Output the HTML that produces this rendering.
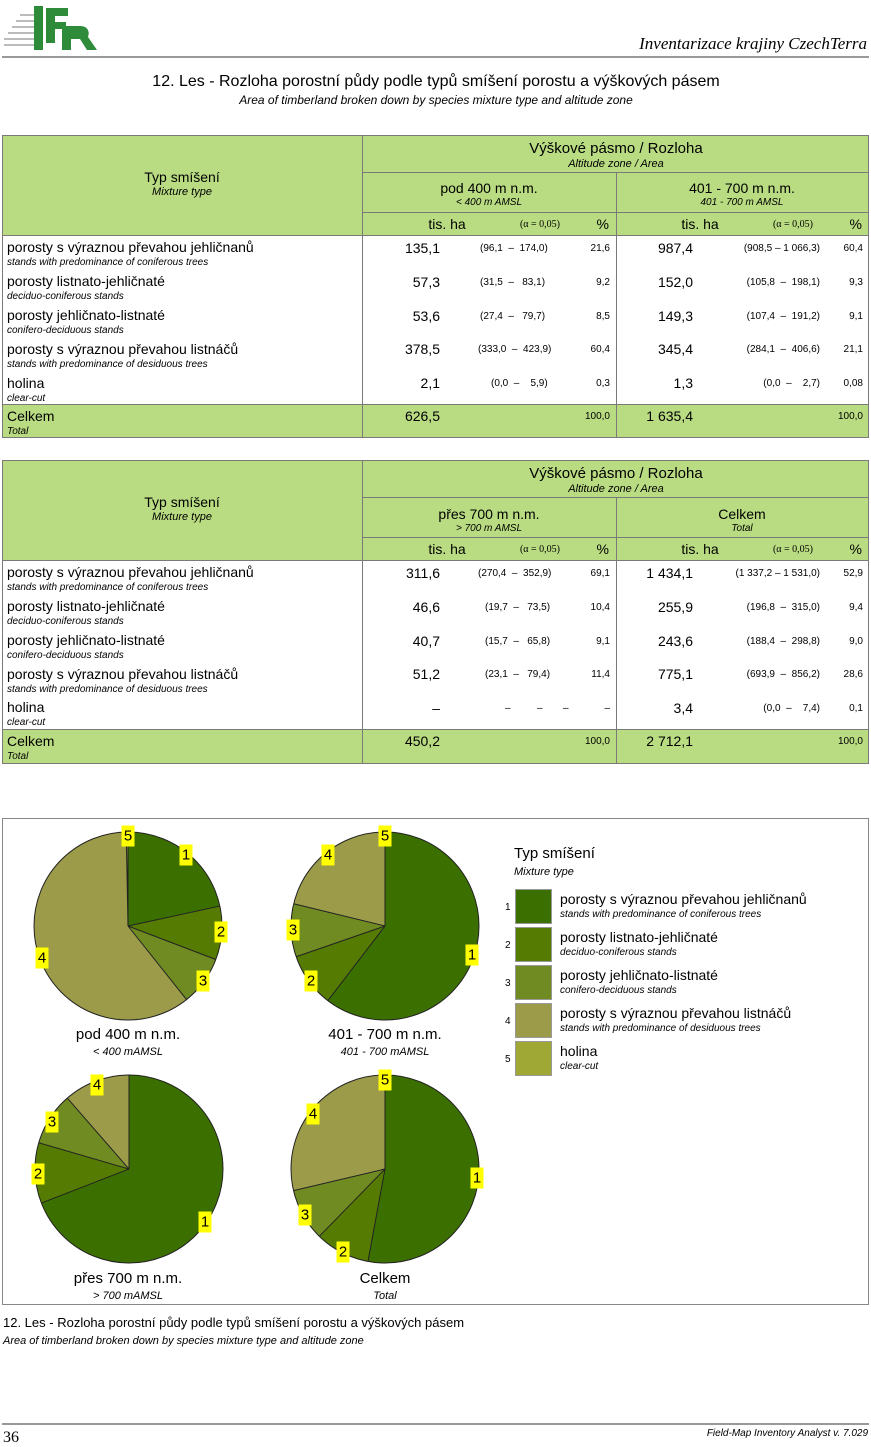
<!DOCTYPE html>
<html><head><meta charset="utf-8"><style>
*{margin:0;padding:0;box-sizing:border-box}
body{width:871px;height:1446px;background:#fff;font-family:"Liberation Sans",Arial,sans-serif;color:#000;position:relative;overflow:hidden}
.a{position:absolute;white-space:nowrap}
.c{transform:translateX(-50%)}
.r{transform:translateX(-100%)}
.i{font-style:italic}
.g{background:#b9dc82}
.hl{position:absolute;height:1px;background:#7a7a7a}
.vl{position:absolute;width:1px;background:#7a7a7a}
.m{font-size:14px}
.s{font-size:10px;font-style:italic}
.ci{font-size:10px}
.al{font-family:"Liberation Serif",serif;font-size:10px}
.lb{position:absolute;background:#ffff00;font-size:15px;width:13px;height:21px;text-align:center;line-height:21px;transform:translate(-50%,-50%)}
</style></head><body>

<!-- logo -->
<svg class="a" style="left:4px;top:2px" width="95" height="52">
<g fill="#bbb"><rect x="0" y="36" width="30" height="2"/><rect x="4" y="30" width="26" height="2"/><rect x="8" y="24" width="22" height="2"/><rect x="12" y="18" width="18" height="2"/><rect x="16" y="12" width="14" height="2"/><rect x="0" y="42" width="30" height="2"/></g>
<rect x="30" y="4" width="9" height="44" fill="#2e8b3a"/>
<path d="M42 6h22v8h-13v6h11v7h-11v14h-9z" fill="#2e8b3a"/>
<path d="M58 24h18c8 0 10 6 8 11l9 13h-10l-7-11h-9v11h-9z" fill="#2e8b3a"/>
</svg>
<div class="a i" style="right:4px;top:34px;font-family:'Liberation Serif',serif;font-size:17px">Inventarizace krajiny CzechTerra</div>
<div class="hl" style="left:2px;width:867px;top:56px;height:2px;background:#999"></div>

<div class="a c" style="left:436px;top:73px;font-size:16px">12. Les - Rozloha porostní půdy podle typů smíšení porostu a výškových pásem</div>
<div class="a c i" style="left:436px;top:93px;font-size:12px">Area of timberland broken down by species mixture type and altitude zone</div>

<!-- TABLE 1 -->
<div class="a g" style="left:2px;top:135px;width:867px;height:100px"></div>
<div class="a g" style="left:2px;top:404px;width:867px;height:34px"></div>
<div class="a" style="left:2px;top:135px;width:867px;height:303px;border:1px solid #7a7a7a"></div>
<div class="vl" style="left:362px;top:135px;height:303px"></div>
<div class="vl" style="left:616px;top:172px;height:266px"></div>
<div class="hl" style="left:362px;top:172px;width:507px"></div>
<div class="hl" style="left:362px;top:212px;width:507px"></div>
<div class="hl" style="left:2px;top:235px;width:867px"></div>
<div class="hl" style="left:2px;top:404px;width:867px"></div>
<div class="a c" style="left:616px;top:140px;font-size:15px">Výškové pásmo / Rozloha</div>
<div class="a c i" style="left:616px;top:158px;font-size:11px">Altitude zone / Area</div>
<div class="a c m" style="left:182px;top:169px">Typ smíšení</div>
<div class="a c i" style="left:182px;top:186px;font-size:11px">Mixture type</div>
<div class="a c m" style="left:489px;top:180px">pod 400 m n.m.</div>
<div class="a c i" style="left:489px;top:197px;font-size:10px">&lt; 400 m AMSL</div>
<div class="a c m" style="left:742px;top:180px">401 - 700 m n.m.</div>
<div class="a c i" style="left:742px;top:197px;font-size:10px">401 - 700 m AMSL</div>
<div class="a c m" style="left:447px;top:216px">tis. ha</div>
<div class="a c al" style="left:540px;top:219px">(α = 0,05)</div>
<div class="a r m" style="left:609px;top:216px">%</div>
<div class="a c m" style="left:700px;top:216px">tis. ha</div>
<div class="a c al" style="left:793px;top:219px">(α = 0,05)</div>
<div class="a r m" style="left:862px;top:216px">%</div>

<!-- rows t1 -->
<div class="a m" style="left:7px;top:239px">porosty s výraznou převahou jehličnanů</div><div class="a s" style="left:7px;top:257px">stands with predominance of coniferous trees</div>
<div class="a m" style="left:7px;top:273px">porosty listnato-jehličnaté</div><div class="a s" style="left:7px;top:291px">deciduo-coniferous stands</div>
<div class="a m" style="left:7px;top:307px">porosty jehličnato-listnaté</div><div class="a s" style="left:7px;top:325px">conifero-deciduous stands</div>
<div class="a m" style="left:7px;top:341px">porosty s výraznou převahou listnáčů</div><div class="a s" style="left:7px;top:359px">stands with predominance of desiduous trees</div>
<div class="a m" style="left:7px;top:375px">holina</div><div class="a s" style="left:7px;top:393px">clear-cut</div>
<div class="a m" style="left:7px;top:408px">Celkem</div><div class="a s" style="left:7px;top:426px">Total</div>

<div class="a r m" style="left:440px;top:240px">135,1</div><div class="a ci" style="left:480px;top:243px">(96,1 &nbsp;–&nbsp; 174,0)</div><div class="a r ci" style="left:610px;top:243px">21,6</div>
<div class="a r m" style="left:440px;top:274px">57,3</div><div class="a ci" style="left:480px;top:277px">(31,5 &nbsp;–&nbsp; &nbsp;83,1)</div><div class="a r ci" style="left:610px;top:277px">9,2</div>
<div class="a r m" style="left:440px;top:308px">53,6</div><div class="a ci" style="left:480px;top:311px">(27,4 &nbsp;–&nbsp; &nbsp;79,7)</div><div class="a r ci" style="left:610px;top:311px">8,5</div>
<div class="a r m" style="left:440px;top:341px">378,5</div><div class="a ci" style="left:478px;top:344px">(333,0 &nbsp;–&nbsp; 423,9)</div><div class="a r ci" style="left:610px;top:344px">60,4</div>
<div class="a r m" style="left:440px;top:375px">2,1</div><div class="a ci" style="left:491px;top:378px">(0,0 &nbsp;–&nbsp; &nbsp; 5,9)</div><div class="a r ci" style="left:610px;top:378px">0,3</div>
<div class="a r m" style="left:440px;top:408px">626,5</div><div class="a r ci" style="left:610px;top:411px">100,0</div>

<div class="a r m" style="left:693px;top:240px">987,4</div><div class="a r ci" style="left:820px;top:243px">(908,5 – 1 066,3)</div><div class="a r ci" style="left:863px;top:243px">60,4</div>
<div class="a r m" style="left:693px;top:274px">152,0</div><div class="a r ci" style="left:820px;top:277px">(105,8 &nbsp;–&nbsp; 198,1)</div><div class="a r ci" style="left:863px;top:277px">9,3</div>
<div class="a r m" style="left:693px;top:308px">149,3</div><div class="a r ci" style="left:820px;top:311px">(107,4 &nbsp;–&nbsp; 191,2)</div><div class="a r ci" style="left:863px;top:311px">9,1</div>
<div class="a r m" style="left:693px;top:341px">345,4</div><div class="a r ci" style="left:820px;top:344px">(284,1 &nbsp;–&nbsp; 406,6)</div><div class="a r ci" style="left:863px;top:344px">21,1</div>
<div class="a r m" style="left:693px;top:375px">1,3</div><div class="a r ci" style="left:820px;top:378px">(0,0 &nbsp;–&nbsp; &nbsp; 2,7)</div><div class="a r ci" style="left:863px;top:378px">0,08</div>
<div class="a r m" style="left:693px;top:408px">1 635,4</div><div class="a r ci" style="left:863px;top:411px">100,0</div>

<!-- TABLE 2 -->
<div class="a g" style="left:2px;top:460px;width:867px;height:100px"></div>
<div class="a g" style="left:2px;top:729px;width:867px;height:35px"></div>
<div class="a" style="left:2px;top:460px;width:867px;height:304px;border:1px solid #7a7a7a"></div>
<div class="vl" style="left:362px;top:460px;height:304px"></div>
<div class="vl" style="left:616px;top:497px;height:267px"></div>
<div class="hl" style="left:362px;top:497px;width:507px"></div>
<div class="hl" style="left:362px;top:537px;width:507px"></div>
<div class="hl" style="left:2px;top:560px;width:867px"></div>
<div class="hl" style="left:2px;top:729px;width:867px"></div>
<div class="a c" style="left:616px;top:465px;font-size:15px">Výškové pásmo / Rozloha</div>
<div class="a c i" style="left:616px;top:483px;font-size:11px">Altitude zone / Area</div>
<div class="a c m" style="left:182px;top:494px">Typ smíšení</div>
<div class="a c i" style="left:182px;top:511px;font-size:11px">Mixture type</div>
<div class="a c m" style="left:489px;top:506px">přes 700 m n.m.</div>
<div class="a c i" style="left:489px;top:523px;font-size:10px">&gt; 700 m AMSL</div>
<div class="a c m" style="left:742px;top:506px">Celkem</div>
<div class="a c i" style="left:742px;top:523px;font-size:10px">Total</div>
<div class="a c m" style="left:447px;top:541px">tis. ha</div>
<div class="a c al" style="left:540px;top:544px">(α = 0,05)</div>
<div class="a r m" style="left:609px;top:541px">%</div>
<div class="a c m" style="left:700px;top:541px">tis. ha</div>
<div class="a c al" style="left:793px;top:544px">(α = 0,05)</div>
<div class="a r m" style="left:862px;top:541px">%</div>

<div class="a m" style="left:7px;top:564px">porosty s výraznou převahou jehličnanů</div><div class="a s" style="left:7px;top:582px">stands with predominance of coniferous trees</div>
<div class="a m" style="left:7px;top:598px">porosty listnato-jehličnaté</div><div class="a s" style="left:7px;top:616px">deciduo-coniferous stands</div>
<div class="a m" style="left:7px;top:632px">porosty jehličnato-listnaté</div><div class="a s" style="left:7px;top:650px">conifero-deciduous stands</div>
<div class="a m" style="left:7px;top:666px">porosty s výraznou převahou listnáčů</div><div class="a s" style="left:7px;top:684px">stands with predominance of desiduous trees</div>
<div class="a m" style="left:7px;top:699px">holina</div><div class="a s" style="left:7px;top:717px">clear-cut</div>
<div class="a m" style="left:7px;top:733px">Celkem</div><div class="a s" style="left:7px;top:751px">Total</div>

<div class="a r m" style="left:440px;top:565px">311,6</div><div class="a ci" style="left:478px;top:568px">(270,4 &nbsp;–&nbsp; 352,9)</div><div class="a r ci" style="left:610px;top:568px">69,1</div>
<div class="a r m" style="left:440px;top:599px">46,6</div><div class="a ci" style="left:485px;top:602px">(19,7 &nbsp;–&nbsp; &nbsp;73,5)</div><div class="a r ci" style="left:610px;top:602px">10,4</div>
<div class="a r m" style="left:440px;top:633px">40,7</div><div class="a ci" style="left:485px;top:636px">(15,7 &nbsp;–&nbsp; &nbsp;65,8)</div><div class="a r ci" style="left:610px;top:636px">9,1</div>
<div class="a r m" style="left:440px;top:666px">51,2</div><div class="a ci" style="left:485px;top:669px">(23,1 &nbsp;–&nbsp; &nbsp;79,4)</div><div class="a r ci" style="left:610px;top:669px">11,4</div>
<div class="a r m" style="left:440px;top:700px">–</div><div class="a ci" style="left:505px;top:703px">–</div><div class="a ci" style="left:537px;top:703px">–</div><div class="a ci" style="left:563px;top:703px">–</div><div class="a r ci" style="left:610px;top:703px">–</div>
<div class="a r m" style="left:440px;top:733px">450,2</div><div class="a r ci" style="left:610px;top:736px">100,0</div>

<div class="a r m" style="left:693px;top:565px">1 434,1</div><div class="a r ci" style="left:820px;top:568px">(1 337,2 – 1 531,0)</div><div class="a r ci" style="left:863px;top:568px">52,9</div>
<div class="a r m" style="left:693px;top:599px">255,9</div><div class="a r ci" style="left:820px;top:602px">(196,8 &nbsp;–&nbsp; 315,0)</div><div class="a r ci" style="left:863px;top:602px">9,4</div>
<div class="a r m" style="left:693px;top:633px">243,6</div><div class="a r ci" style="left:820px;top:636px">(188,4 &nbsp;–&nbsp; 298,8)</div><div class="a r ci" style="left:863px;top:636px">9,0</div>
<div class="a r m" style="left:693px;top:666px">775,1</div><div class="a r ci" style="left:820px;top:669px">(693,9 &nbsp;–&nbsp; 856,2)</div><div class="a r ci" style="left:863px;top:669px">28,6</div>
<div class="a r m" style="left:693px;top:700px">3,4</div><div class="a r ci" style="left:820px;top:703px">(0,0 &nbsp;–&nbsp; &nbsp; 7,4)</div><div class="a r ci" style="left:863px;top:703px">0,1</div>
<div class="a r m" style="left:693px;top:733px">2 712,1</div><div class="a r ci" style="left:863px;top:736px">100,0</div>

<!-- CHART BOX -->
<div class="a" style="left:2px;top:818px;width:867px;height:487px;border:1px solid #888"></div>
<svg class="a" style="left:0;top:0" width="871" height="1446">
<defs>
<g id="dummy"></g>
</defs>
<!-- pie1 -->
<g transform="translate(128,926) rotate(-90)" fill="none" stroke-width="94">
<circle r="47" pathLength="100" stroke="#3b7001" stroke-dasharray="21.6 100"/>
<circle r="47" pathLength="100" stroke="#567b02" stroke-dasharray="9.2 100" stroke-dashoffset="-21.6"/>
<circle r="47" pathLength="100" stroke="#6f8b22" stroke-dasharray="8.5 100" stroke-dashoffset="-30.8"/>
<circle r="47" pathLength="100" stroke="#9c9b4a" stroke-dasharray="60.4 100" stroke-dashoffset="-39.3"/>
<circle r="47" pathLength="100" stroke="#9fa735" stroke-dasharray="0.3 100" stroke-dashoffset="-99.7"/>
</g>
<g transform="translate(128,926)" stroke="#222" stroke-width="1">
<circle r="94" fill="none"/>
<line x2="0" y2="-94"/><line x2="0" y2="-94" transform="rotate(77.76)"/><line x2="0" y2="-94" transform="rotate(110.88)"/><line x2="0" y2="-94" transform="rotate(141.48)"/><line x2="0" y2="-94" transform="rotate(358.92)"/>
</g>
<!-- pie2 -->
<g transform="translate(385,926) rotate(-90)" fill="none" stroke-width="94">
<circle r="47" pathLength="100" stroke="#3b7001" stroke-dasharray="60.4 100"/>
<circle r="47" pathLength="100" stroke="#567b02" stroke-dasharray="9.3 100" stroke-dashoffset="-60.4"/>
<circle r="47" pathLength="100" stroke="#6f8b22" stroke-dasharray="9.1 100" stroke-dashoffset="-69.7"/>
<circle r="47" pathLength="100" stroke="#9c9b4a" stroke-dasharray="21.12 100" stroke-dashoffset="-78.8"/>
<circle r="47" pathLength="100" stroke="#9fa735" stroke-dasharray="0.08 100" stroke-dashoffset="-99.92"/>
</g>
<g transform="translate(385,926)" stroke="#222" stroke-width="1">
<circle r="94" fill="none"/>
<line x2="0" y2="-94"/><line x2="0" y2="-94" transform="rotate(217.44)"/><line x2="0" y2="-94" transform="rotate(250.92)"/><line x2="0" y2="-94" transform="rotate(283.68)"/>
</g>
<!-- pie3 -->
<g transform="translate(129,1169) rotate(-90)" fill="none" stroke-width="94">
<circle r="47" pathLength="100" stroke="#3b7001" stroke-dasharray="69.1 100"/>
<circle r="47" pathLength="100" stroke="#567b02" stroke-dasharray="10.4 100" stroke-dashoffset="-69.1"/>
<circle r="47" pathLength="100" stroke="#6f8b22" stroke-dasharray="9.1 100" stroke-dashoffset="-79.5"/>
<circle r="47" pathLength="100" stroke="#9c9b4a" stroke-dasharray="11.4 100" stroke-dashoffset="-88.6"/>
</g>
<g transform="translate(129,1169)" stroke="#222" stroke-width="1">
<circle r="94" fill="none"/>
<line x2="0" y2="-94"/><line x2="0" y2="-94" transform="rotate(248.76)"/><line x2="0" y2="-94" transform="rotate(286.2)"/><line x2="0" y2="-94" transform="rotate(318.96)"/>
</g>
<!-- pie4 -->
<g transform="translate(385,1169) rotate(-90)" fill="none" stroke-width="94">
<circle r="47" pathLength="100" stroke="#3b7001" stroke-dasharray="52.9 100"/>
<circle r="47" pathLength="100" stroke="#567b02" stroke-dasharray="9.4 100" stroke-dashoffset="-52.9"/>
<circle r="47" pathLength="100" stroke="#6f8b22" stroke-dasharray="9.0 100" stroke-dashoffset="-62.3"/>
<circle r="47" pathLength="100" stroke="#9c9b4a" stroke-dasharray="28.6 100" stroke-dashoffset="-71.3"/>
<circle r="47" pathLength="100" stroke="#9fa735" stroke-dasharray="0.1 100" stroke-dashoffset="-99.9"/>
</g>
<g transform="translate(385,1169)" stroke="#222" stroke-width="1">
<circle r="94" fill="none"/>
<line x2="0" y2="-94"/><line x2="0" y2="-94" transform="rotate(190.44)"/><line x2="0" y2="-94" transform="rotate(224.28)"/><line x2="0" y2="-94" transform="rotate(256.68)"/>
</g>
<!-- legend swatches -->
<g stroke="#999" stroke-width="1">
<rect x="515.5" y="889.5" width="36" height="34" fill="#3b7001"/>
<rect x="515.5" y="927.5" width="36" height="34" fill="#567b02"/>
<rect x="515.5" y="965.5" width="36" height="34" fill="#6f8b22"/>
<rect x="515.5" y="1003.5" width="36" height="34" fill="#9c9b4a"/>
<rect x="515.5" y="1041.5" width="36" height="34" fill="#9fa735"/>
</g>
</svg>

<!-- pie labels -->
<div class="lb" style="left:128px;top:836px">5</div><div class="lb" style="left:186px;top:855px">1</div><div class="lb" style="left:221px;top:932px">2</div><div class="lb" style="left:203px;top:981px">3</div><div class="lb" style="left:42px;top:958px">4</div>
<div class="lb" style="left:385px;top:836px">5</div><div class="lb" style="left:328px;top:855px">4</div><div class="lb" style="left:293px;top:930px">3</div><div class="lb" style="left:311px;top:981px">2</div><div class="lb" style="left:472px;top:955px">1</div>
<div class="lb" style="left:97px;top:1085px">4</div><div class="lb" style="left:52px;top:1122px">3</div><div class="lb" style="left:38px;top:1174px">2</div><div class="lb" style="left:205px;top:1222px">1</div>
<div class="lb" style="left:385px;top:1080px">5</div><div class="lb" style="left:313px;top:1114px">4</div><div class="lb" style="left:305px;top:1215px">3</div><div class="lb" style="left:343px;top:1252px">2</div><div class="lb" style="left:477px;top:1178px">1</div>

<!-- pie titles -->
<div class="a c" style="left:128px;top:1026px;font-size:15px">pod 400 m n.m.</div>
<div class="a c i" style="left:128px;top:1046px;font-size:11px">&lt; 400 mAMSL</div>
<div class="a c" style="left:385px;top:1026px;font-size:15px">401 - 700 m n.m.</div>
<div class="a c i" style="left:385px;top:1046px;font-size:11px">401 - 700 mAMSL</div>
<div class="a c" style="left:128px;top:1270px;font-size:15px">přes 700 m n.m.</div>
<div class="a c i" style="left:128px;top:1290px;font-size:11px">&gt; 700 mAMSL</div>
<div class="a c" style="left:385px;top:1270px;font-size:15px">Celkem</div>
<div class="a c i" style="left:385px;top:1290px;font-size:11px">Total</div>

<!-- legend -->
<div class="a" style="left:514px;top:845px;font-size:15px">Typ smíšení</div>
<div class="a i" style="left:514px;top:866px;font-size:11px">Mixture type</div>
<div class="a" style="left:505px;top:902px;font-size:10px">1</div>
<div class="a" style="left:505px;top:940px;font-size:10px">2</div>
<div class="a" style="left:505px;top:978px;font-size:10px">3</div>
<div class="a" style="left:505px;top:1016px;font-size:10px">4</div>
<div class="a" style="left:505px;top:1054px;font-size:10px">5</div>
<div class="a m" style="left:560px;top:891px">porosty s výraznou převahou jehličnanů</div><div class="a s" style="left:560px;top:909px">stands with predominance of coniferous trees</div>
<div class="a m" style="left:560px;top:929px">porosty listnato-jehličnaté</div><div class="a s" style="left:560px;top:947px">deciduo-coniferous stands</div>
<div class="a m" style="left:560px;top:967px">porosty jehličnato-listnaté</div><div class="a s" style="left:560px;top:985px">conifero-deciduous stands</div>
<div class="a m" style="left:560px;top:1005px">porosty s výraznou převahou listnáčů</div><div class="a s" style="left:560px;top:1023px">stands with predominance of desiduous trees</div>
<div class="a m" style="left:560px;top:1043px">holina</div><div class="a s" style="left:560px;top:1061px">clear-cut</div>

<!-- caption -->
<div class="a" style="left:3px;top:1315px;font-size:13px">12. Les - Rozloha porostní půdy podle typů smíšení porostu a výškových pásem</div>
<div class="a i" style="left:3px;top:1335px;font-size:11px">Area of timberland broken down by species mixture type and altitude zone</div>

<!-- footer -->
<div class="hl" style="left:2px;width:867px;top:1423px;height:2px;background:#999"></div>
<div class="a" style="left:3px;top:1429px;font-family:'Liberation Serif',serif;font-size:16px">36</div>
<div class="a i" style="right:3px;top:1428px;font-size:10px">Field-Map Inventory Analyst v. 7.029</div>
</body></html>
